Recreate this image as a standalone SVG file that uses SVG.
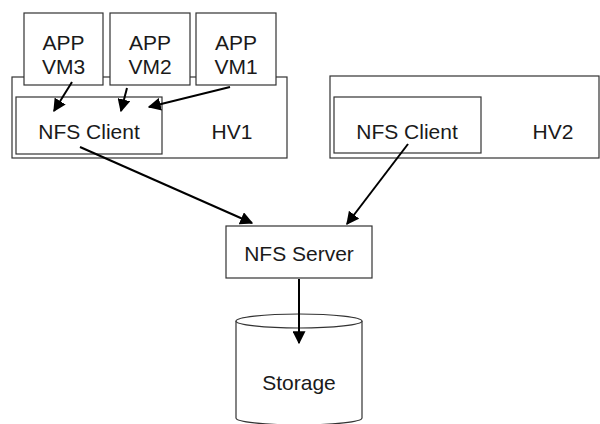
<svg xmlns="http://www.w3.org/2000/svg" width="600" height="424" viewBox="0 0 600 424">
<defs>
<style>
.box{fill:#fff;stroke:#333;stroke-width:1.2}
.t{font-family:"Liberation Sans",Arial,sans-serif;font-size:21px;fill:#1a1a1a;text-anchor:middle;dominant-baseline:central}
.c{stroke:#000;stroke-width:2;fill:none;marker-end:url(#ah)}
</style>
<marker id="ah" viewBox="0 0 10 10" refX="9" refY="5" markerWidth="6.5" markerHeight="6.5" orient="auto" markerUnits="strokeWidth">
<path d="M0,0 L10,5 L0,10 Z" fill="#000"/>
</marker>
</defs>
<rect width="600" height="424" fill="#fff"/>
<g id="hv1">
<rect class="box" x="12" y="77" width="275" height="81"/>
<text class="t" x="232" y="131">HV1</text>
</g>
<g id="hv2">
<rect class="box" x="330" y="76" width="269" height="82"/>
<text class="t" x="553" y="131">HV2</text>
</g>
<g id="vm3">
<rect class="box" x="24" y="13" width="79" height="72"/>
<text class="t" x="63.5" y="42">APP</text>
<text class="t" x="63.5" y="66">VM3</text>
</g>
<g id="vm2">
<rect class="box" x="110" y="13" width="80" height="72"/>
<text class="t" x="150" y="42">APP</text>
<text class="t" x="150" y="66">VM2</text>
</g>
<g id="vm1">
<rect class="box" x="196" y="13" width="80" height="72"/>
<text class="t" x="236" y="42">APP</text>
<text class="t" x="236" y="66">VM1</text>
</g>
<g id="client1">
<rect class="box" x="16" y="97" width="146" height="57"/>
<text class="t" x="89" y="131">NFS Client</text>
</g>
<g id="client2">
<rect class="box" x="334" y="97" width="147" height="56"/>
<text class="t" x="407" y="131">NFS Client</text>
</g>
<g id="server">
<rect class="box" x="226" y="226" width="146" height="52"/>
<text class="t" x="299" y="253">NFS Server</text>
</g>
<g id="storage">
<path class="box" d="M236,321 L236,418 A63,7 0 0 0 362,418 L362,321"/>
<ellipse class="box" cx="299" cy="321" rx="63" ry="7"/>
<text class="t" x="299" y="382">Storage</text>
</g>
<g id="connectors">
<line class="c" x1="72" y1="82" x2="54" y2="111"/>
<line class="c" x1="127" y1="88" x2="121" y2="111"/>
<line class="c" x1="230" y1="87" x2="149" y2="107"/>
<line class="c" x1="80" y1="147" x2="252" y2="223"/>
<line class="c" x1="408" y1="144" x2="347" y2="224"/>
<line class="c" x1="299" y1="279" x2="299" y2="343"/>
</g>
</svg>
